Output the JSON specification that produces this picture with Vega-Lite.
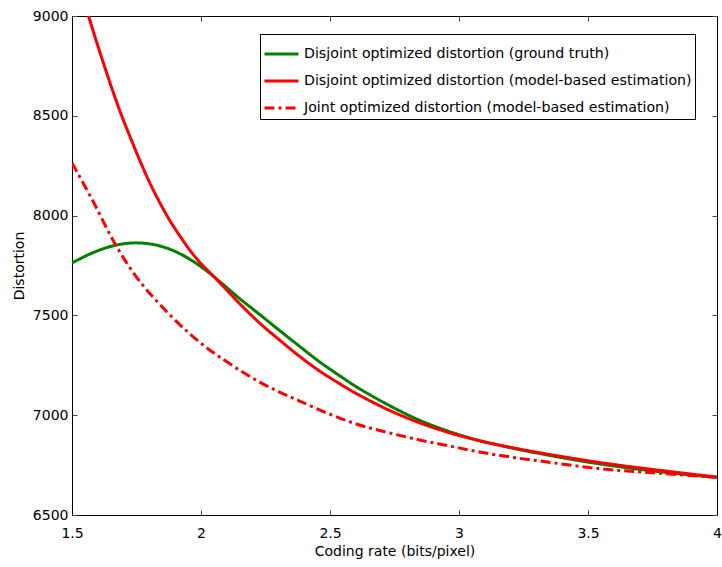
{
  "$schema": "https://vega.github.io/schema/vega-lite/v6.json",
  "width": 645,
  "height": 499,
  "autosize": {"type": "none"},
  "padding": {"left": 72, "top": 16, "right": 5, "bottom": 52},
  "background": "white",
  "config": {
    "view": {"stroke": null},
    "font": "DejaVu Sans",
    "axis": {
      "domainColor": "black",
      "domainWidth": 1,
      "tickColor": "#444444",
      "tickWidth": 1,
      "tickSize": -5,
      "labelFont": "DejaVu Sans",
      "labelFontSize": 14,
      "labelColor": "black",
      "titleFont": "DejaVu Sans",
      "titleFontSize": 14,
      "titleFontWeight": "normal",
      "titleColor": "black",
      "grid": false
    }
  },
  "data": {
    "values": [
      {"series": "Disjoint optimized distortion (ground truth)", "x": 1.5, "y": 7763},
      {"series": "Disjoint optimized distortion (ground truth)", "x": 1.579, "y": 7813},
      {"series": "Disjoint optimized distortion (ground truth)", "x": 1.657, "y": 7848},
      {"series": "Disjoint optimized distortion (ground truth)", "x": 1.734, "y": 7863},
      {"series": "Disjoint optimized distortion (ground truth)", "x": 1.812, "y": 7856},
      {"series": "Disjoint optimized distortion (ground truth)", "x": 1.89, "y": 7826},
      {"series": "Disjoint optimized distortion (ground truth)", "x": 1.967, "y": 7773},
      {"series": "Disjoint optimized distortion (ground truth)", "x": 2.033, "y": 7712},
      {"series": "Disjoint optimized distortion (ground truth)", "x": 2.072, "y": 7670},
      {"series": "Disjoint optimized distortion (ground truth)", "x": 2.149, "y": 7585},
      {"series": "Disjoint optimized distortion (ground truth)", "x": 2.227, "y": 7505},
      {"series": "Disjoint optimized distortion (ground truth)", "x": 2.304, "y": 7425},
      {"series": "Disjoint optimized distortion (ground truth)", "x": 2.382, "y": 7345},
      {"series": "Disjoint optimized distortion (ground truth)", "x": 2.459, "y": 7268},
      {"series": "Disjoint optimized distortion (ground truth)", "x": 2.537, "y": 7198},
      {"series": "Disjoint optimized distortion (ground truth)", "x": 2.614, "y": 7133},
      {"series": "Disjoint optimized distortion (ground truth)", "x": 2.731, "y": 7048},
      {"series": "Disjoint optimized distortion (ground truth)", "x": 2.847, "y": 6975},
      {"series": "Disjoint optimized distortion (ground truth)", "x": 2.963, "y": 6918},
      {"series": "Disjoint optimized distortion (ground truth)", "x": 3.079, "y": 6873},
      {"series": "Disjoint optimized distortion (ground truth)", "x": 3.196, "y": 6838},
      {"series": "Disjoint optimized distortion (ground truth)", "x": 3.312, "y": 6808},
      {"series": "Disjoint optimized distortion (ground truth)", "x": 3.545, "y": 6756},
      {"series": "Disjoint optimized distortion (ground truth)", "x": 3.777, "y": 6717},
      {"series": "Disjoint optimized distortion (ground truth)", "x": 4.0, "y": 6688},
      {"series": "Disjoint optimized distortion (model-based estimation)", "x": 1.5, "y": 9270},
      {"series": "Disjoint optimized distortion (model-based estimation)", "x": 1.564, "y": 9000},
      {"series": "Disjoint optimized distortion (model-based estimation)", "x": 1.618, "y": 8779},
      {"series": "Disjoint optimized distortion (model-based estimation)", "x": 1.684, "y": 8530},
      {"series": "Disjoint optimized distortion (model-based estimation)", "x": 1.762, "y": 8279},
      {"series": "Disjoint optimized distortion (model-based estimation)", "x": 1.8, "y": 8168},
      {"series": "Disjoint optimized distortion (model-based estimation)", "x": 1.839, "y": 8068},
      {"series": "Disjoint optimized distortion (model-based estimation)", "x": 1.878, "y": 7978},
      {"series": "Disjoint optimized distortion (model-based estimation)", "x": 1.917, "y": 7900},
      {"series": "Disjoint optimized distortion (model-based estimation)", "x": 1.955, "y": 7830},
      {"series": "Disjoint optimized distortion (model-based estimation)", "x": 1.994, "y": 7768},
      {"series": "Disjoint optimized distortion (model-based estimation)", "x": 2.072, "y": 7665},
      {"series": "Disjoint optimized distortion (model-based estimation)", "x": 2.149, "y": 7560},
      {"series": "Disjoint optimized distortion (model-based estimation)", "x": 2.227, "y": 7462},
      {"series": "Disjoint optimized distortion (model-based estimation)", "x": 2.304, "y": 7377},
      {"series": "Disjoint optimized distortion (model-based estimation)", "x": 2.382, "y": 7295},
      {"series": "Disjoint optimized distortion (model-based estimation)", "x": 2.459, "y": 7222},
      {"series": "Disjoint optimized distortion (model-based estimation)", "x": 2.537, "y": 7158},
      {"series": "Disjoint optimized distortion (model-based estimation)", "x": 2.614, "y": 7100},
      {"series": "Disjoint optimized distortion (model-based estimation)", "x": 2.731, "y": 7024},
      {"series": "Disjoint optimized distortion (model-based estimation)", "x": 2.847, "y": 6962},
      {"series": "Disjoint optimized distortion (model-based estimation)", "x": 2.963, "y": 6912},
      {"series": "Disjoint optimized distortion (model-based estimation)", "x": 3.079, "y": 6872},
      {"series": "Disjoint optimized distortion (model-based estimation)", "x": 3.196, "y": 6840},
      {"series": "Disjoint optimized distortion (model-based estimation)", "x": 3.312, "y": 6812},
      {"series": "Disjoint optimized distortion (model-based estimation)", "x": 3.545, "y": 6763},
      {"series": "Disjoint optimized distortion (model-based estimation)", "x": 3.777, "y": 6724},
      {"series": "Disjoint optimized distortion (model-based estimation)", "x": 4.0, "y": 6690},
      {"series": "Joint optimized distortion (model-based estimation)", "x": 1.5, "y": 8264},
      {"series": "Joint optimized distortion (model-based estimation)", "x": 1.579, "y": 8078},
      {"series": "Joint optimized distortion (model-based estimation)", "x": 1.665, "y": 7863},
      {"series": "Joint optimized distortion (model-based estimation)", "x": 1.75, "y": 7692},
      {"series": "Joint optimized distortion (model-based estimation)", "x": 1.839, "y": 7557},
      {"series": "Joint optimized distortion (model-based estimation)", "x": 1.944, "y": 7422},
      {"series": "Joint optimized distortion (model-based estimation)", "x": 2.033, "y": 7327},
      {"series": "Joint optimized distortion (model-based estimation)", "x": 2.072, "y": 7292},
      {"series": "Joint optimized distortion (model-based estimation)", "x": 2.149, "y": 7226},
      {"series": "Joint optimized distortion (model-based estimation)", "x": 2.227, "y": 7166},
      {"series": "Joint optimized distortion (model-based estimation)", "x": 2.304, "y": 7116},
      {"series": "Joint optimized distortion (model-based estimation)", "x": 2.382, "y": 7071},
      {"series": "Joint optimized distortion (model-based estimation)", "x": 2.498, "y": 7006},
      {"series": "Joint optimized distortion (model-based estimation)", "x": 2.614, "y": 6951},
      {"series": "Joint optimized distortion (model-based estimation)", "x": 2.731, "y": 6911},
      {"series": "Joint optimized distortion (model-based estimation)", "x": 2.847, "y": 6876},
      {"series": "Joint optimized distortion (model-based estimation)", "x": 2.963, "y": 6846},
      {"series": "Joint optimized distortion (model-based estimation)", "x": 3.079, "y": 6816},
      {"series": "Joint optimized distortion (model-based estimation)", "x": 3.196, "y": 6791},
      {"series": "Joint optimized distortion (model-based estimation)", "x": 3.312, "y": 6771},
      {"series": "Joint optimized distortion (model-based estimation)", "x": 3.545, "y": 6732},
      {"series": "Joint optimized distortion (model-based estimation)", "x": 3.777, "y": 6709},
      {"series": "Joint optimized distortion (model-based estimation)", "x": 4.0, "y": 6689}
    ]
  },
  "resolve": {"axis": {"x": "independent", "y": "independent"}},
  "layer": [
    {
      "mark": {"type": "line", "strokeWidth": 3, "clip": true, "interpolate": "catmull-rom"},
      "encoding": {
        "x": {
          "field": "x", "type": "quantitative",
          "scale": {"domain": [1.5, 4], "nice": false, "zero": false},
          "axis": {"title": "Coding rate (bits/pixel)", "values": [1.5, 2, 2.5, 3, 3.5, 4], "format": "~g", "labelPadding": 16, "titlePadding": 4, "labelFlush": false}
        },
        "y": {
          "field": "y", "type": "quantitative",
          "scale": {"domain": [6500, 9000], "nice": false, "zero": false},
          "axis": {"title": "Distortion", "values": [6500, 7000, 7500, 8000, 8500, 9000], "format": "d", "labelPadding": 9, "titlePadding": 6, "labelFlush": false}
        },
        "color": {
          "field": "series", "type": "nominal",
          "scale": {
            "domain": ["Disjoint optimized distortion (ground truth)", "Disjoint optimized distortion (model-based estimation)", "Joint optimized distortion (model-based estimation)"],
            "range": ["#008000", "#ff0000", "#ff0000"]
          },
          "legend": {
            "orient": "none", "legendX": 188, "legendY": 18,
            "title": " ", "titleFontSize": 4, "titlePadding": 5,
            "strokeColor": "black", "fillColor": "white", "padding": 3,
            "symbolType": "stroke", "symbolSize": 1156, "symbolStrokeWidth": 3,
            "clipHeight": 16,
            "labelFont": "DejaVu Sans", "labelFontSize": 14.2, "labelColor": "black",
            "labelLimit": 600, "labelOffset": 4, "rowPadding": 11
          }
        },
        "strokeDash": {
          "field": "series", "type": "nominal",
          "scale": {
            "domain": ["Disjoint optimized distortion (ground truth)", "Disjoint optimized distortion (model-based estimation)", "Joint optimized distortion (model-based estimation)"],
            "range": [[1, 0], [1, 0], [10, 4, 3, 4]]
          },
          "legend": {
            "orient": "none", "legendX": 188, "legendY": 18,
            "title": " ", "titleFontSize": 4, "titlePadding": 5,
            "strokeColor": "black", "fillColor": "white", "padding": 3,
            "symbolType": "stroke", "symbolSize": 1156, "symbolStrokeWidth": 3,
            "clipHeight": 16,
            "labelFont": "DejaVu Sans", "labelFontSize": 14.2, "labelColor": "black",
            "labelLimit": 600, "labelOffset": 4, "rowPadding": 11
          }
        }
      }
    },
    {
      "mark": {"type": "line", "opacity": 0},
      "encoding": {
        "x": {
          "field": "x", "type": "quantitative",
          "scale": {"domain": [1.5, 4], "nice": false, "zero": false},
          "axis": {"orient": "top", "title": null, "labels": false, "values": [1.5, 2, 2.5, 3, 3.5, 4]}
        },
        "y": {
          "field": "y", "type": "quantitative",
          "scale": {"domain": [6500, 9000], "nice": false, "zero": false},
          "axis": {"orient": "right", "title": null, "labels": false, "values": [6500, 7000, 7500, 8000, 8500, 9000]}
        }
      }
    }
  ]
}
